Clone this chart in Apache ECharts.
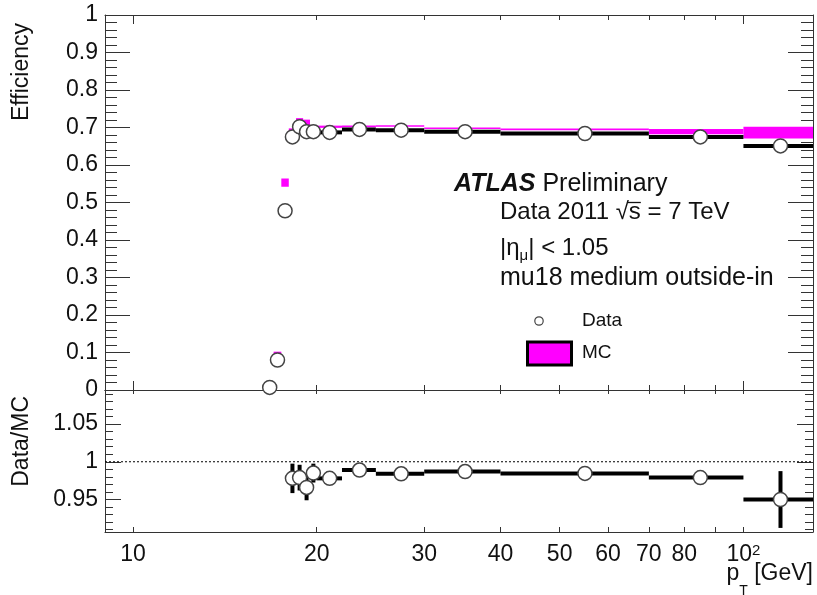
<!DOCTYPE html>
<html>
<head>
<meta charset="utf-8">
<script src="https://cdn.jsdelivr.net/npm/echarts@6/dist/echarts.min.js"></script>
<style>
  html, body { margin: 0; padding: 0; background: #fff; }
  #chart { width: 817px; height: 595px; }
</style>
</head>
<body>
<div id="chart"></div>
<script>
// Bins in muon transverse momentum (GeV)
const binLow    = [16.5, 17, 17.5, 18, 18.5, 19, 19.5, 20, 22, 25, 30, 40, 70, 100];
const binHigh   = [17, 17.5, 18, 18.5, 19, 19.5, 20, 22, 25, 30, 40, 70, 100, 130];
const binCenter = [16.75, 17.25, 17.75, 18.25, 18.75, 19.25, 19.75, 21, 23.5, 27.5, 35, 55, 85, 115];

// Measured efficiency (data) and its uncertainty
const dataEff = [0.007, 0.080, 0.478, 0.675, 0.702, 0.689, 0.689, 0.687, 0.695, 0.693, 0.689, 0.684, 0.675, 0.651];
const dataErr = [0.002, 0.004, 0.006, 0.013, 0.012, 0.012, 0.009, 0.004, 0.003, 0.002, 0.002, 0.002, 0.003, 0.010];

// Simulated efficiency (MC) and its uncertainty
const mcEff = [0.0013, 0.0955, 0.553, 0.691, 0.717, 0.713, 0.699, 0.702, 0.703, 0.704, 0.698, 0.695, 0.689, 0.6865];
const mcErr = [0.003, 0.0067, 0.011, 0.0067, 0.008, 0.008, 0.006, 0.003, 0.002, 0.002, 0.0015, 0.0015, 0.007, 0.0155];

// Data/MC ratio (null where it falls outside the ratio window)
const ratio    = [null, null, null, 0.978, 0.979, 0.966, 0.985, 0.978, 0.989, 0.984, 0.987, 0.9846, 0.979, 0.950];
const ratioErr = [null, null, null, 0.0195, 0.017, 0.017, 0.0125, 0.004, 0.003, 0.002, 0.002, 0.002, 0.004, 0.0376];

// Axis ticks and labels
const xTicksMinor = [20, 30, 40, 50, 60, 70, 80, 90];
const xTicksMajor = [10, 100];
const xTicksAll   = [10, 20, 30, 40, 50, 60, 70, 80, 90, 100];
const xLabels     = [10, 20, 30, 40, 50, 60, 70, 80, 100];
const rLabels     = [0.95, 1, 1.05];
const rTicksMinor = [0.91, 0.92, 0.93, 0.94, 0.95, 0.96, 0.97, 0.98, 0.99, 1.0,
                     1.01, 1.02, 1.03, 1.04, 1.05, 1.06, 1.07, 1.08, 1.09];

const FONT = "'Liberation Sans', Arial, Helvetica, sans-serif";
const INK = '#111';
const AX = { color: '#333', width: 1 };
const MAGENTA = '#ff00ff';

const X_MIN = 9, X_MAX = 130;
const R_MIN = 0.907, R_MAX = 1.095;

// text measuring, used to place sub/superscripts next to running text
const measureCtx = document.createElement('canvas').getContext('2d');
function textWidth(str, size, weight, style) {
  measureCtx.font = (style || 'normal') + ' ' + (weight || 'normal') + ' ' + size + 'px ' + FONT;
  return measureCtx.measureText(str).width;
}
function txt(str, x, y, size, align, extra) {
  return Object.assign({
    type: 'text', x: x, y: y,
    style: { text: str, fontFamily: FONT, fontSize: size, fill: INK,
             align: align || 'left', verticalAlign: 'middle' }
  }, extra || {});
}

// rows for the custom series
const mcRows = binLow.map((lo, i) => [lo, binHigh[i], binCenter[i], mcEff[i], mcErr[i]]);
const dataRows = binLow.map((lo, i) => [lo, binHigh[i], binCenter[i], dataEff[i], dataErr[i]]);
const ratioRows = [];
binLow.forEach((lo, i) => {
  if (ratio[i] !== null) ratioRows.push([lo, binHigh[i], binCenter[i], ratio[i], ratioErr[i]]);
});

function renderBox(params, api) {
  const a = api.coord([api.value(0), api.value(3) + api.value(4)]);
  const b = api.coord([api.value(1), api.value(3) - api.value(4)]);
  let h = b[1] - a[1];
  let y = a[1];
  if (h < 1.6) { y -= (1.6 - h) / 2; h = 1.6; }
  return {
    type: 'rect',
    shape: { x: a[0], y: y, width: b[0] - a[0], height: h },
    style: { fill: MAGENTA }
  };
}

function renderErrBars(params, api) {
  const lo = api.value(0), hi = api.value(1), c = api.value(2), v = api.value(3), e = api.value(4);
  const pL = api.coord([lo, v]), pR = api.coord([hi, v]);
  const pT = api.coord([c, v + e]), pB = api.coord([c, v - e]);
  return {
    type: 'group',
    children: [
      { type: 'line', shape: { x1: pL[0], y1: pL[1], x2: pR[0], y2: pR[1] },
        style: { stroke: '#000', lineWidth: 4 } },
      { type: 'line', shape: { x1: pT[0], y1: pT[1], x2: pB[0], y2: pB[1] },
        style: { stroke: '#000', lineWidth: 4 } }
    ]
  };
}

function logAxis(grid, pos, ticks, len, showLine, labels) {
  return {
    gridIndex: grid, type: 'log', min: X_MIN, max: X_MAX, position: pos,
    axisLine: { show: showLine, onZero: false, lineStyle: AX },
    axisTick: { show: true, inside: true, length: len, customValues: ticks, lineStyle: AX },
    minorTick: { show: false },
    splitLine: { show: false },
    axisLabel: labels ? {
      show: true, customValues: labels, margin: 11,
      formatter: v => (v === 100 ? '{b|10}{s|2}' : '{b|' + v + '}'),
      rich: {
        b: { fontFamily: FONT, fontSize: 23, lineHeight: 24, color: INK, verticalAlign: 'top' },
        s: { fontFamily: FONT, fontSize: 15, lineHeight: 15, color: INK, verticalAlign: 'top' }
      }
    } : { show: false }
  };
}

function ratioAxis(pos, ticks, len, labels, showLine) {
  return {
    gridIndex: 1, type: 'value', min: R_MIN, max: R_MAX, position: pos,
    axisLine: { show: showLine, onZero: false, lineStyle: AX },
    axisTick: { show: true, inside: true, length: len, customValues: ticks, lineStyle: AX },
    splitLine: { show: false },
    axisLabel: labels ? {
      show: true, customValues: labels, margin: 7,
      fontFamily: FONT, fontSize: 23, color: INK
    } : { show: false }
  };
}

function effAxis(pos, labels) {
  return {
    gridIndex: 0, type: 'value', min: 0, max: 1, interval: 0.1, position: pos,
    axisLine: { show: true, onZero: false, lineStyle: AX },
    axisTick: { show: true, inside: true, length: 25, lineStyle: AX },
    minorTick: { show: true, splitNumber: 5, length: 12, lineStyle: AX },
    splitLine: { show: false },
    axisLabel: labels ? { show: true, margin: 7, fontFamily: FONT, fontSize: 23, color: INK }
                      : { show: false }
  };
}

// ---- annotation text ----
const graphics = [];

// axis titles
graphics.push(txt('Efficiency', 22, 23, 23, 'right', { rotation: Math.PI / 2 }));
graphics.push(txt('Data/MC', 22, 396, 23, 'right', { rotation: Math.PI / 2 }));

// p_T [GeV], right-aligned to the frame edge
(function () {
  const right = 813, yMid = 573.5, size = 23, sub = 14;
  const wTail = textWidth(' [GeV]', size);
  const wT = textWidth('T', sub);
  graphics.push(txt(' [GeV]', right, yMid, size, 'right'));
  graphics.push(txt('T', right - wTail, yMid + 18, sub, 'right'));
  graphics.push(txt('p', right - wTail - wT, yMid, size, 'right'));
})();

// ATLAS Preliminary
graphics.push({
  type: 'text', x: 454, y: 184,
  style: { text: '{a|ATLAS}{b| Preliminary}', align: 'left', verticalAlign: 'middle',
           rich: {
             a: { fontFamily: FONT, fontSize: 25, fontWeight: 'bold', fontStyle: 'italic', fill: INK },
             b: { fontFamily: FONT, fontSize: 25, fill: INK }
           } }
});

// Data 2011 sqrt(s) = 7 TeV, with the bar over s
(function () {
  const x0 = 500, yMid = 212.5, size = 24;
  graphics.push(txt('Data 2011 \u221As = 7 TeV', x0, yMid, size, 'left'));
  const xs = x0 + textWidth('Data 2011 \u221A', size);
  const ws = textWidth('s', size);
  graphics.push({ type: 'line', shape: { x1: xs - 1, y1: yMid - 10, x2: xs + ws, y2: yMid - 10 },
                  style: { stroke: INK, lineWidth: 1.3 } });
})();

// |eta_mu| < 1.05
(function () {
  const x0 = 500, yMid = 248, size = 24, sub = 15;
  const w1 = textWidth('|\u03B7', size);
  const w2 = textWidth('\u03BC', sub);
  graphics.push(txt('|\u03B7', x0, yMid, size, 'left'));
  graphics.push(txt('\u03BC', x0 + w1, yMid + 8, sub, 'left'));
  graphics.push(txt('| < 1.05', x0 + w1 + w2, yMid, size, 'left'));
})();

graphics.push(txt('mu18 medium outside-in', 500, 278.5, 25, 'left'));

// legend
graphics.push({ type: 'circle', shape: { cx: 539, cy: 321, r: 4.2 },
                style: { fill: '#fff', stroke: '#444', lineWidth: 1.2 } });
graphics.push(txt('Data', 582, 321, 19, 'left'));
graphics.push({ type: 'rect', shape: { x: 527.5, y: 342, width: 44, height: 23 },
                style: { fill: MAGENTA, stroke: '#000', lineWidth: 3 } });
graphics.push(txt('MC', 582, 353, 19, 'left'));

const chart = echarts.init(document.getElementById('chart'), null, { renderer: 'canvas' });

chart.setOption({
  animation: false,
  backgroundColor: '#fff',
  grid: [
    { left: 105, top: 15, width: 708, height: 375 },
    { left: 105, top: 390, width: 708, height: 142 }
  ],
  xAxis: [
    logAxis(0, 'bottom', xTicksMinor, 5, true, null),
    logAxis(0, 'bottom', xTicksMajor, 9, false, null),
    logAxis(0, 'top', xTicksMinor, 5, true, null),
    logAxis(0, 'top', xTicksMajor, 9, false, null),
    logAxis(1, 'top', xTicksAll, 4, true, null),
    logAxis(1, 'bottom', xTicksAll, 5, true, xLabels)
  ],
  yAxis: [
    effAxis('left', true),
    effAxis('right', false),
    ratioAxis('left', rLabels, 16, rLabels, true),
    ratioAxis('left', rTicksMinor, 8, null, false),
    ratioAxis('right', rLabels, 16, null, true),
    ratioAxis('right', rTicksMinor, 8, null, false)
  ],
  series: [
    {
      name: 'MC', type: 'custom', xAxisIndex: 0, yAxisIndex: 0,
      renderItem: renderBox, data: mcRows, clip: true, z: 2,
      encode: { x: [0, 1], y: 3 }
    },
    {
      name: 'Data bars', type: 'custom', xAxisIndex: 0, yAxisIndex: 0,
      renderItem: renderErrBars, data: dataRows, clip: true, z: 3,
      encode: { x: [0, 1], y: 3 }
    },
    {
      name: 'Data', type: 'scatter', xAxisIndex: 0, yAxisIndex: 0, z: 4,
      symbol: 'circle', symbolSize: 14,
      itemStyle: { color: '#fff', borderColor: '#444', borderWidth: 1.5, opacity: 1 },
      data: binCenter.map((c, i) => [c, dataEff[i]])
    },
    {
      name: 'Unity', type: 'line', xAxisIndex: 5, yAxisIndex: 2, z: 2,
      symbol: 'none', silent: true,
      lineStyle: { color: '#000', width: 1, type: [2, 2] },
      data: [[X_MIN, 1], [X_MAX, 1]]
    },
    {
      name: 'Ratio bars', type: 'custom', xAxisIndex: 5, yAxisIndex: 2,
      renderItem: renderErrBars, data: ratioRows, clip: true, z: 3,
      encode: { x: [0, 1], y: 3 }
    },
    {
      name: 'Ratio', type: 'scatter', xAxisIndex: 5, yAxisIndex: 2, z: 4,
      symbol: 'circle', symbolSize: 14,
      itemStyle: { color: '#fff', borderColor: '#444', borderWidth: 1.5, opacity: 1 },
      data: ratioRows.map(r => [r[2], r[3]])
    }
  ],
  graphic: graphics
});
</script>
</body>
</html>
